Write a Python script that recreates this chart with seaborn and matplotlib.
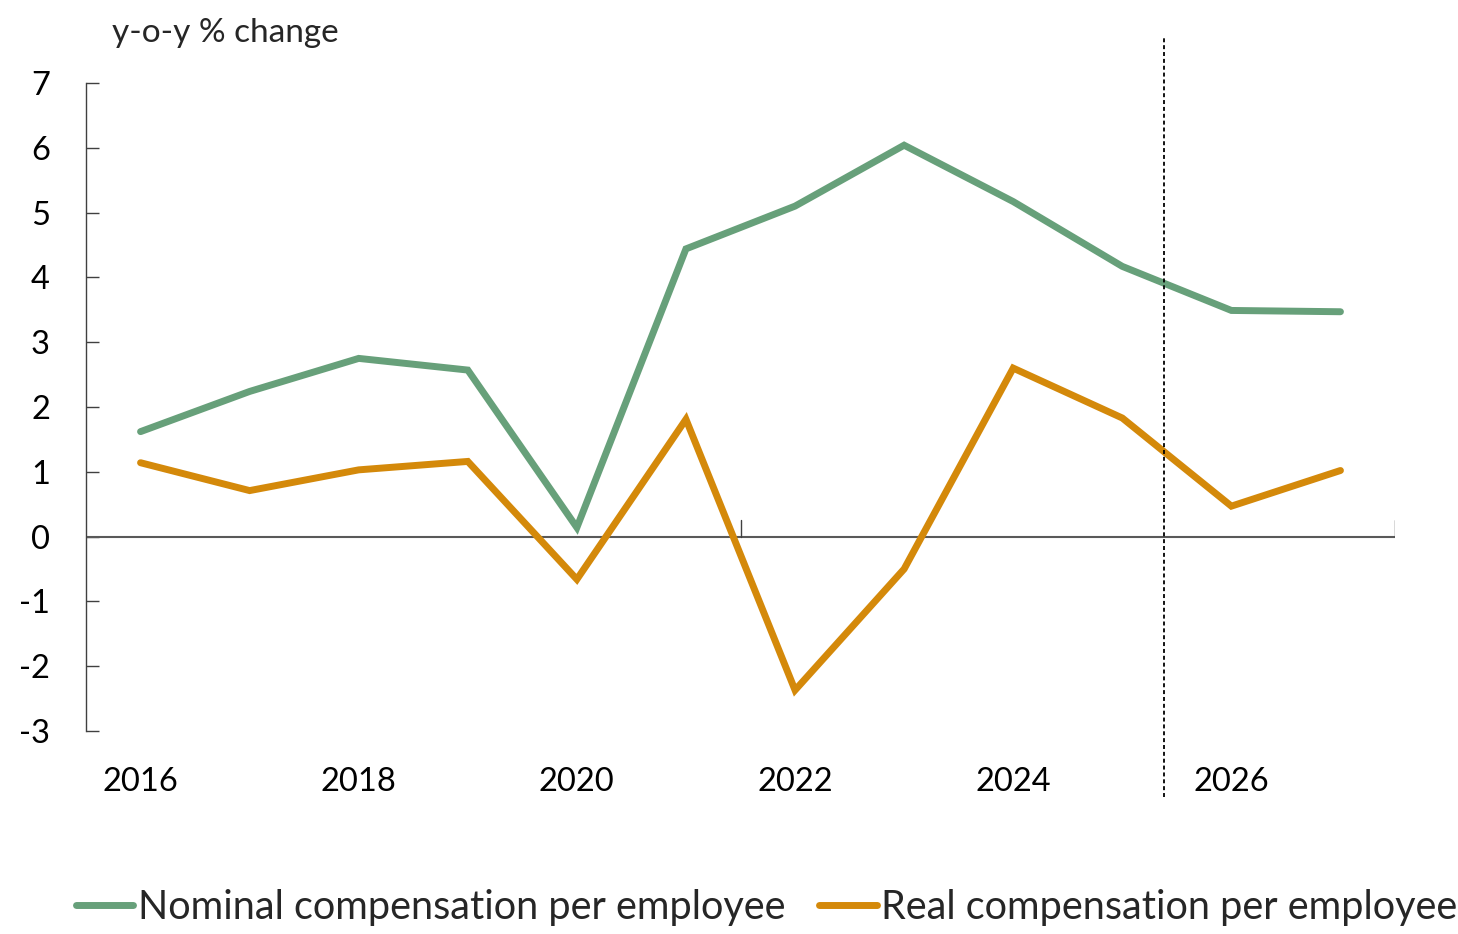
import matplotlib
matplotlib.use("Agg")
import matplotlib.pyplot as plt
import seaborn as sns
import pandas as pd

years = [2016, 2017, 2018, 2019, 2020, 2021, 2022, 2023, 2024, 2025, 2026, 2027]
nominal = [1.62, 2.24, 2.75, 2.57, 0.14, 4.44, 5.10, 6.04, 5.17, 4.17, 3.49, 3.47]
real = [1.14, 0.71, 1.03, 1.16, -0.66, 1.81, -2.37, -0.50, 2.60, 1.83, 0.47, 1.02]
series_names = ["Nominal compensation per employee", "Real compensation per employee"]
colors = ["#67A07A", "#D4890A"]
xtick_years = [2016, 2018, 2020, 2022, 2024, 2026]
yticks = list(range(-3, 8))
ylabel_text = "y-o-y % change"
forecast_split = 2025.38

df = pd.DataFrame({
    "year": years * 2,
    "value": nominal + real,
    "series": [series_names[0]] * len(years) + [series_names[1]] * len(years),
})

sns.set_theme(style="white")
plt.rcParams["font.family"] = ["Lato", "DejaVu Sans"]

fig = plt.figure(figsize=(14.58, 9.34), dpi=100)
ax = fig.add_axes([86 / 1458, 1 - 731 / 934, (1395 - 86) / 1458, (731 - 83) / 934])

sns.lineplot(data=df, x="year", y="value", hue="series", palette=colors,
             linewidth=5.0, ax=ax, legend=False, solid_capstyle="round",
             solid_joinstyle="miter")

ax.set_xlim(2015.5, 2027.5)
ax.set_ylim(-3, 7)

for s in ["top", "right", "bottom"]:
    ax.spines[s].set_visible(False)
ax.spines["left"].set_color("#404040")
ax.spines["left"].set_linewidth(1.0)

ax.set_yticks(yticks)
ax.set_yticklabels([str(v) for v in yticks])
ax.tick_params(axis="y", left=True, direction="in", length=9, width=1.0, color="#404040",
               labelsize=23.5, pad=26, labelcolor="black")

ax.set_xticks(xtick_years)
ax.set_xticklabels([str(v) for v in xtick_years])
ax.tick_params(axis="x", bottom=False, length=0, labelsize=23.5, pad=26, labelcolor="black")
ax.set_xlabel("")
ax.set_ylabel("")

# zero line as category axis
ax.axhline(0, color="#595959", linewidth=1.5, zorder=1)
for xm in [2021.5, 2027.5]:
    ax.plot([xm, xm], [0, 0.25], color="#404040", linewidth=1.0, zorder=1)

# forecast separator
ax.axvline(forecast_split, ymin=-0.102, ymax=1.069, color="black", linewidth=1.3,
           linestyle=(0, (2.2, 1.6)), clip_on=False, zorder=3)

fig.text(112 / 1458, 1 - 33 / 934, ylabel_text, fontsize=24, va="center", ha="left")

handles = [plt.Line2D([], [], color=c, linewidth=5.0, solid_capstyle="round") for c in colors]
fig.legend(handles, series_names, loc="center left",
           bbox_to_anchor=(76 / 1458, 1 - 907 / 934), ncol=2, frameon=False,
           fontsize=28.5, handlelength=1.45, handletextpad=0.12, columnspacing=0.85,
           borderaxespad=0, borderpad=0)

fig.savefig("out.png", dpi=100)
